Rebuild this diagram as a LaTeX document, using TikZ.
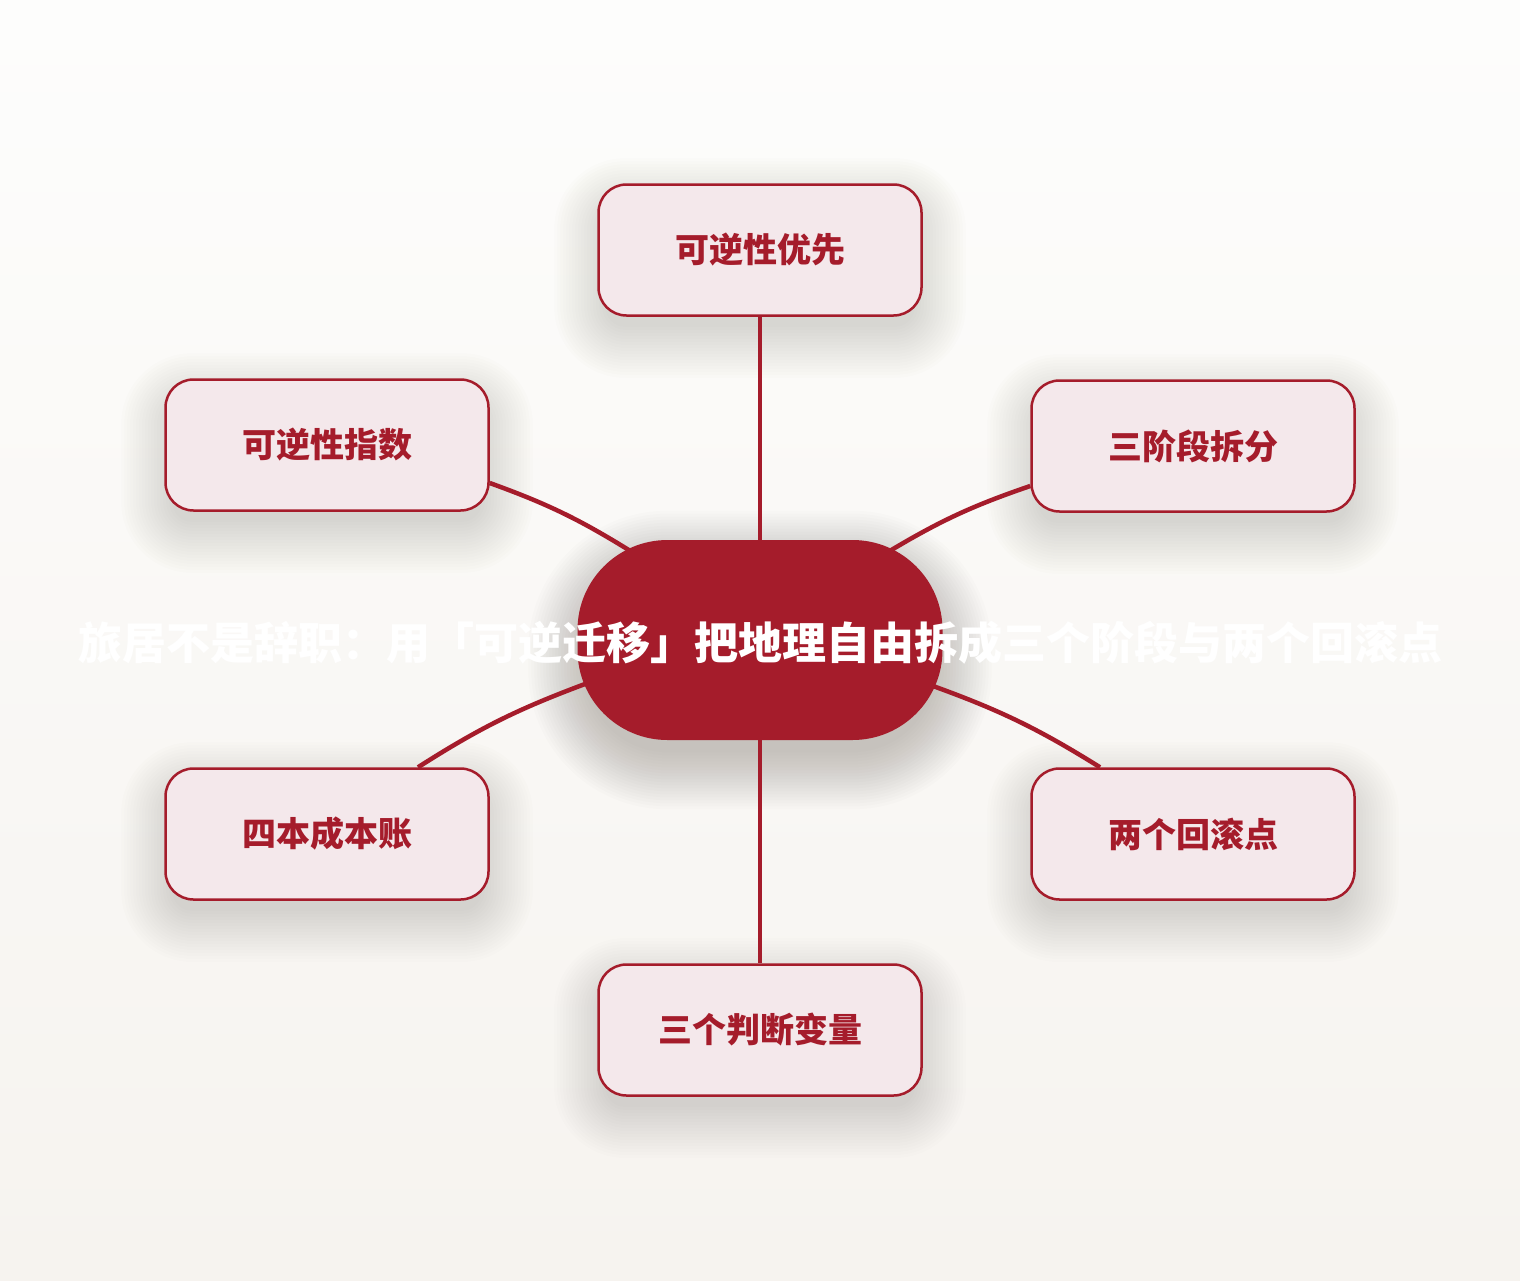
\documentclass[tikz,border=0pt]{standalone}
\usepackage{fontspec}
\newfontfamily\cjk{Noto Sans CJK SC}
\definecolor{deepred}{HTML}{A51C2B}
\definecolor{pinkfill}{HTML}{F4E8EB}
\definecolor{bgtop}{HTML}{FDFDFC}
\definecolor{bgbot}{HTML}{F6F3EF}
\definecolor{shadowcol}{HTML}{5A5248}
\pgfdeclarelayer{bg}
\pgfdeclarelayer{shadowlayer}
\pgfdeclarelayer{edges}
\pgfsetlayers{bg,shadowlayer,edges,main}
\tikzset{
  satbox/.style={draw=deepred, line width=2.5pt, fill=pinkfill, rounded corners=28pt,
    minimum width=323pt, minimum height=131pt, inner sep=0pt,
    font=\cjk\bfseries\fontsize{34pt}{40pt}\selectfont, text=deepred},
  hubshape/.style={fill=deepred, rounded corners=90pt, minimum width=365pt,
    minimum height=200pt, inner sep=0pt},
  hubtext/.style={font=\cjk\bfseries\fontsize{44pt}{50pt}\selectfont, text=white, inner sep=0pt},
  link/.style={draw=deepred, line width=4.5pt},
  shadowlayerfill/.style={fill=shadowcol, opacity=0.013},
}
\begin{document}
\begin{tikzpicture}[x=1pt, y=-1pt]
\useasboundingbox (0,0) rectangle (1520,1280);
\begin{pgfonlayer}{bg}
  \fill[top color=bgtop, bottom color=bgbot] (0,0) rectangle (1520,1280);
\end{pgfonlayer}

\node[hubshape] (hub) at (760,640) {};
\node[hubtext] (hubt) at (760,643) {旅居不是辞职：用「可逆迁移」把地理自由拆成三个阶段与两个回滚点};

\node[satbox] (top) at (760,250) {可逆性优先};
\node[satbox] (ul) at (327,445) {可逆性指数};
\node[satbox] (ur) at (1193,446) {三阶段拆分};
\node[satbox] (ll) at (327,834) {四本成本账};
\node[satbox] (lr) at (1193,834) {两个回滚点};
\node[satbox] (bot) at (760,1030) {三个判断变量};

\begin{pgfonlayer}{shadowlayer}
  \foreach \n in {top,ul,ur,ll,lr,bot}{
    \foreach \k in {0,...,17}{
      \pgfmathsetmacro{\d}{3*\k-8}
      \pgfmathsetmacro{\rc}{max(28+\d,6)}
      \fill[shadowlayerfill, rounded corners=\rc pt]
        ([xshift=-\d pt, yshift=-\d pt-18pt]\n.south west) rectangle
        ([xshift=\d pt, yshift=\d pt-18pt]\n.north east);
    }
  }
  \foreach \k in {0,...,19}{
    \pgfmathsetmacro{\d}{3*\k-8}
    \pgfmathsetmacro{\rc}{90+\d}
    \fill[fill=shadowcol, opacity=0.016, rounded corners=\rc pt]
      ([xshift=-\d pt, yshift=-\d pt-20pt]hub.south west) rectangle
      ([xshift=\d pt, yshift=\d pt-20pt]hub.north east);
  }
\end{pgfonlayer}

\begin{pgfonlayer}{edges}
  \draw[link] (top.south) -- (hub.north);
  \draw[link] (hub.south) -- (bot.north);
  \draw[link] ([yshift=-38pt]ul.east) to[bend left=6] ([xshift=-128pt,yshift=88pt]hub.center);
  \draw[link] ([xshift=128pt,yshift=88pt]hub.center) to[bend left=6] ([yshift=-40pt]ur.west);
  \draw[link] ([xshift=91pt]ll.north) to[bend left=6] ([xshift=-175pt,yshift=-44pt]hub.center);
  \draw[link] ([xshift=173pt,yshift=-46pt]hub.center) to[bend left=6] ([xshift=-93pt]lr.north);
\end{pgfonlayer}
\end{tikzpicture}
\end{document}
